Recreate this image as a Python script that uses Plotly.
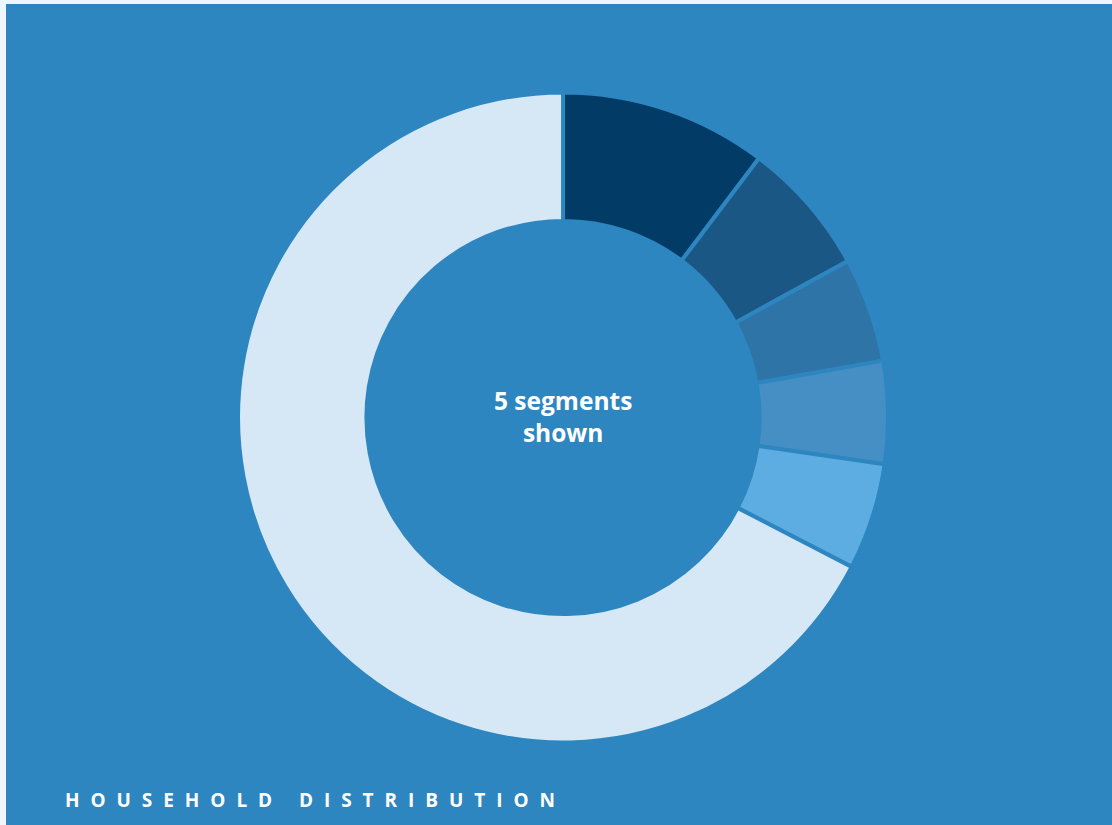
import plotly.graph_objects as go

# Data
labels = ["Segment 1", "Segment 2", "Segment 3", "Segment 4", "Segment 5", "Other"]
values = [10.3, 6.7, 5.2, 5.1, 5.3, 67.4]
colors = ["#023B66", "#1B5785", "#2F74A6", "#458FC5", "#5DADE2", "#D6E8F6"]
center_text = "5 segments<br>shown"
title_text = "HOUSEHOLD DISTRIBUTION"

BG = "#2E86C1"

fig = go.Figure(go.Pie(
    labels=labels,
    values=values,
    sort=False,
    direction="clockwise",
    rotation=0,
    hole=0.605,
    marker=dict(colors=colors, line=dict(color=BG, width=4)),
    textinfo="none",
    hoverinfo="label+percent",
    domain=dict(x=[0.2098, 0.7975], y=[0.1005, 0.8922]),
    showlegend=False,
))

fig.add_annotation(
    x=0.5036, y=0.497, xref="paper", yref="paper",
    text=center_text, showarrow=False,
    font=dict(family="Open Sans", size=24.5, color="white", weight="bold"),
    align="center",
)
fig.add_annotation(
    x=0.0515, y=0.0305, xref="paper", yref="paper",
    xanchor="left", yanchor="middle",
    text=title_text, showarrow=False,
    font=dict(family="Open Sans", size=19, color="white", weight="bold"),
)

fig.update_layout(
    width=1106, height=821,
    paper_bgcolor=BG, plot_bgcolor=BG,
    margin=dict(l=0, r=0, t=0, b=0),
)

post = """
document.body.style.margin='4px 0 0 6px';
document.body.style.background='#F0F6FD';
document.body.style.overflow='hidden';
document.querySelectorAll('.annotation-text').forEach(function(t){
  if (t.textContent.indexOf('HOUSEHOLD') >= 0) {
    var bb = t.getBBox();
    var n = t.textContent.length;
    var w0 = t.getComputedTextLength();
    var target = 490;
    var ls = (target - w0) / (n - 1);
    t.style.letterSpacing = ls + 'px';
    t.setAttribute('text-anchor', 'start');
    t.setAttribute('x', bb.x);
  }
});
"""

fig.write_html("out.html", post_script=post)
